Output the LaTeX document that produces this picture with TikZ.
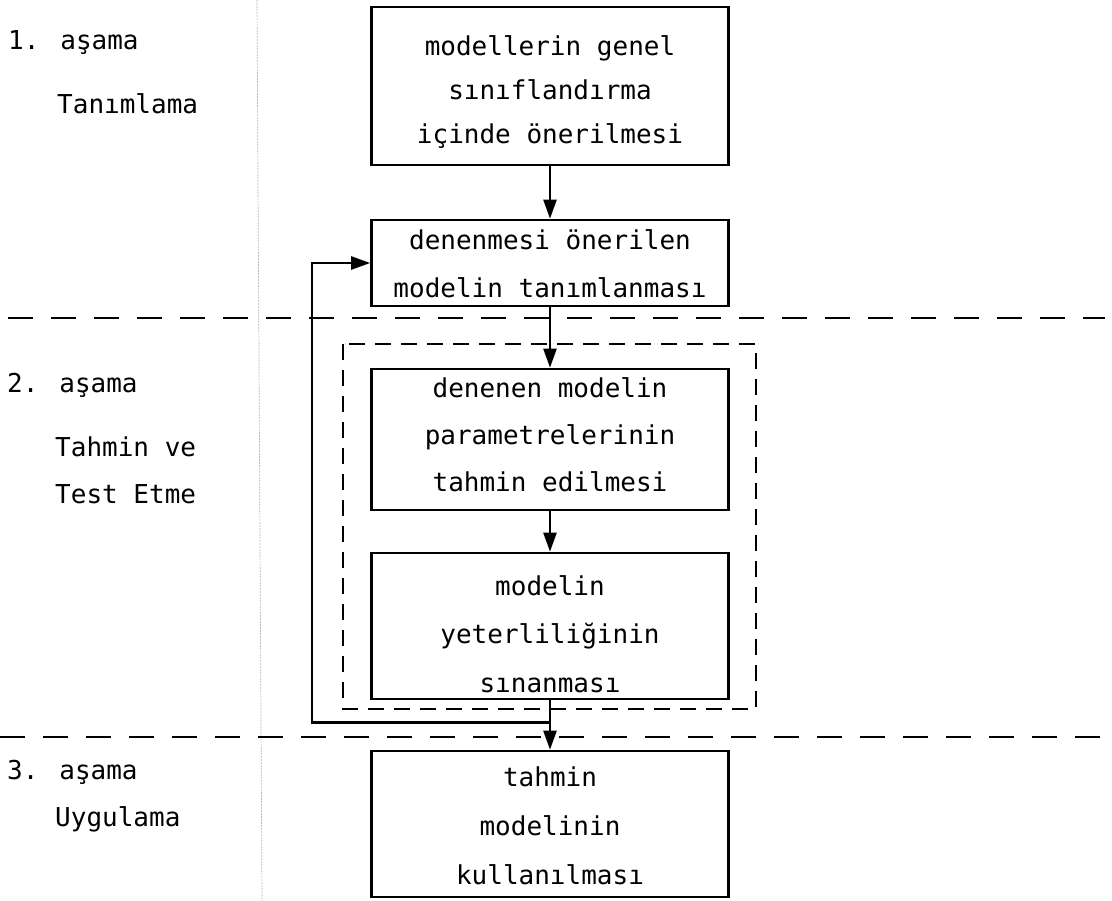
\documentclass[tikz,border=0pt]{standalone}
\usepackage{fontspec}
\newfontfamily\monofont{DejaVu Sans Mono}
\usetikzlibrary{arrows.meta}
\begin{document}
\begin{tikzpicture}[x=1pt,y=-1pt,
  box/.style={draw,line width=2.6pt,minimum width=357pt,inner sep=0pt},
  boxtext/.style={inner sep=0pt,align=center,font=\monofont\fontsize{26}{48}\selectfont},
  stage/.style={anchor=west,inner sep=0pt,font=\monofont\fontsize{26}{30}\selectfont,
    text height=19pt,text depth=6pt},
  flow/.style={line width=2.4pt,-{Triangle[length=19pt,width=13pt]}},
  phase/.style={line width=2.2pt,dash pattern=on 25pt off 18pt},
  group/.style={line width=2.4pt,dash pattern=on 16pt off 10pt}]
\useasboundingbox (0,0) rectangle (1112,901);

% faint fold line down the page
\draw[gray!55,line width=0.7pt,dash pattern=on 2pt off 1pt] (257,0) -- (262,901);

% phase separators
\draw[phase] (8,318) -- (1105,318);
\draw[phase] (0,737) -- (1105,737);

% group of estimation and testing steps
\draw[group] (343,344) rectangle (756,709);

% stage labels
\node[stage] (s1)  at (8,43)   {1. aşama};
\node[stage] (s1n) at (57,107) {Tanımlama};
\node[stage] (s2)  at (7,386)  {2. aşama};
\node[stage] (s2n) at (55,450) {Tahmin ve};
\node[stage] (s2m) at (55,497) {Test Etme};
\node[stage] (s3)  at (7,773)  {3. aşama};
\node[stage] (s3n) at (55,820) {Uygulama};

% process boxes
\node[box,minimum height=158pt] (b1) at (550,86) {};
\node[box,minimum height=86pt]  (b2) at (550,263) {};
\node[box,minimum height=141pt] (b3) at (550,439.5) {};
\node[box,minimum height=146pt] (b4) at (550,626) {};
\node[box,minimum height=146pt] (b5) at (550,824) {};

% box texts
\node[boxtext,font=\monofont\fontsize{26}{44}\selectfont] (t1) at (550,92)
  {modellerin genel\\sınıflandırma\\içinde önerilmesi};
\node[boxtext] (t2) at (550,264)
  {denenmesi önerilen\\modelin tanımlanması};
\node[boxtext,font=\monofont\fontsize{26}{47}\selectfont] (t3) at (550,435)
  {denenen modelin\\parametrelerinin\\tahmin edilmesi};
\node[boxtext,font=\monofont\fontsize{26}{48.5}\selectfont] (t4) at (550,634)
  {modelin\\yeterliliğinin\\sınanması};
\node[boxtext,font=\monofont\fontsize{26}{49}\selectfont] (t5) at (550,826)
  {tahmin\\modelinin\\kullanılması};

% connectors
\draw[flow] (b1) -- (b2);
\draw[flow] (b2) -- (b3);
\draw[flow] (b3) -- (b4);
\draw[flow] (b4) -- (b5);

% feedback from the adequacy check back to identification
\path (b4.south) ++(0,22) coordinate (j);
\coordinate (loopx) at (312,0);
\draw[flow] (j) -- (j -| loopx) |- (b2.west);
\end{tikzpicture}
\end{document}
